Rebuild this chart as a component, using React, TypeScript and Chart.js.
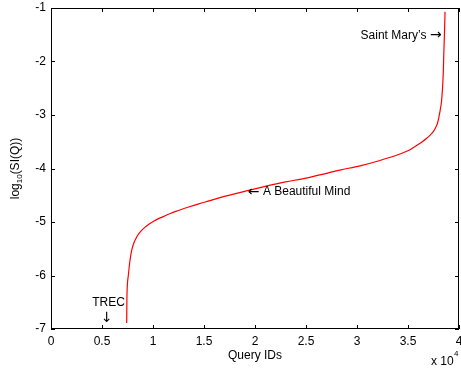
import React, { useEffect, useRef } from "react";
import { Chart, registerables } from "chart.js";

Chart.register(...registerables);

// Query IDs (in units of 10^4) and log10(SI(Q))
const queryIds = [
  0.742, 0.744, 0.748, 0.758, 0.775, 0.79, 0.807, 0.84, 0.873, 0.92, 0.97, 1.03,
  1.1, 1.17, 1.25, 1.35, 1.45, 1.56, 1.7, 1.85, 2.0, 2.15, 2.3, 2.5, 2.7, 2.833,
  3.03, 3.225, 3.42, 3.52, 3.585, 3.64, 3.68, 3.72, 3.748, 3.77, 3.79, 3.81, 3.83,
  3.84, 3.846, 3.852, 3.858, 3.863,
];
const logSI = [
  -6.89, -6.46, -6.2, -6.0, -5.71, -5.54, -5.42, -5.28, -5.19, -5.1, -5.03, -4.96,
  -4.9, -4.84, -4.785, -4.72, -4.66, -4.6, -4.52, -4.45, -4.38, -4.31, -4.25, -4.18,
  -4.09, -4.03, -3.95, -3.85, -3.73, -3.65, -3.57, -3.5, -3.44, -3.37, -3.31, -3.24,
  -3.15, -2.97, -2.72, -2.45, -2.2, -1.8, -1.45, -1.07,
];

const xTicks = [0, 0.5, 1, 1.5, 2, 2.5, 3, 3.5, 4];
const yTicks = [-7, -6, -5, -4, -3, -2, -1];

const annotationTexts = ["Saint Mary\u2019s \u2192", "\u2190 A Beautiful Mind", "TREC", "\u2193"];
const annotationX = [3.83, 1.93, 0.564, 0.548];
const annotationY = [-1.52, -4.44, -6.5, -6.8];
const annotationAlign = ["right", "left", "center", "center"];

const FONT = "'Liberation Sans', Arial, Helvetica, sans-serif";
const ARROW_FONT = "'DejaVu Sans', sans-serif";
const ARROWS = "\u2190\u2192\u2191\u2193";

function drawMixed(ctx: CanvasRenderingContext2D, text: string, x: number, y: number, align: string) {
  const parts = Array.from(text).map((ch) => {
    const font = ARROWS.includes(ch) ? `14px ${ARROW_FONT}` : `12px ${FONT}`;
    ctx.font = font;
    return { ch, font, w: ctx.measureText(ch).width };
  });
  const total = parts.reduce((s, p) => s + p.w, 0);
  let cx = align === "right" ? x - total : align === "center" ? x - total / 2 : x;
  ctx.textAlign = "left";
  parts.forEach((p) => {
    ctx.font = p.font;
    ctx.fillText(p.ch, cx, y);
    cx += p.w;
  });
}

const decorPlugin = {
  id: "decor",
  afterDraw(chart: any) {
    const ctx = chart.ctx as CanvasRenderingContext2D;
    const { left, right, top, bottom } = chart.chartArea;
    const xs = chart.scales.x;
    const ys = chart.scales.y;
    ctx.save();
    ctx.strokeStyle = "#000";
    ctx.lineWidth = 1;
    ctx.strokeRect(Math.round(left) + 0.5, Math.round(top) + 0.5, Math.round(right - left) - 1, Math.round(bottom - top) - 1);
    const tl = 4;
    ctx.beginPath();
    xTicks.forEach((v) => {
      const px = Math.round(xs.getPixelForValue(v)) + 0.5;
      ctx.moveTo(px, bottom);
      ctx.lineTo(px, bottom - tl);
      ctx.moveTo(px, top);
      ctx.lineTo(px, top + tl);
    });
    yTicks.forEach((v) => {
      const py = Math.round(ys.getPixelForValue(v)) + 0.5;
      ctx.moveTo(left, py);
      ctx.lineTo(left + tl, py);
      ctx.moveTo(right, py);
      ctx.lineTo(right - tl, py);
    });
    ctx.stroke();

    ctx.fillStyle = "#000";
    ctx.textBaseline = "middle";
    annotationTexts.forEach((t, i) => {
      drawMixed(ctx, t, xs.getPixelForValue(annotationX[i]), ys.getPixelForValue(annotationY[i]), annotationAlign[i]);
    });

    ctx.font = `12px ${FONT}`;
    ctx.textAlign = "center";
    ctx.fillText("Query IDs", (left + right) / 2, bottom + 27);

    ctx.textAlign = "left";
    ctx.fillText("x 10", right - 28, bottom + 33);
    ctx.font = `8px ${FONT}`;
    ctx.fillText("4", right - 5, bottom + 25);

    ctx.translate(16, (top + bottom) / 2);
    ctx.rotate(-Math.PI / 2);
    ctx.font = `12px ${FONT}`;
    const a = "log";
    const b = "10";
    const c = "(SI(Q))";
    const wa = ctx.measureText(a).width;
    const wc = ctx.measureText(c).width;
    ctx.font = `8px ${FONT}`;
    const wb = ctx.measureText(b).width;
    let x0 = -(wa + wb + wc) / 2;
    ctx.textAlign = "left";
    ctx.font = `12px ${FONT}`;
    ctx.fillText(a, x0, 0);
    x0 += wa;
    ctx.font = `8px ${FONT}`;
    ctx.fillText(b, x0, 4);
    x0 += wb;
    ctx.font = `12px ${FONT}`;
    ctx.fillText(c, x0, 0);
    ctx.restore();
  },
};

export default function App() {
  const ref = useRef<HTMLCanvasElement>(null);
  useEffect(() => {
    if (!ref.current) return;
    const chart = new Chart(ref.current, {
      type: "scatter",
      data: {
        datasets: [
          {
            data: queryIds.map((x, i) => ({ x, y: logSI[i] })),
            showLine: true,
            borderColor: "#ff0000",
            borderWidth: 1.2,
            pointRadius: 0,
            cubicInterpolationMode: "monotone",
            fill: false,
          } as any,
        ],
      },
      options: {
        animation: false,
        responsive: false,
        devicePixelRatio: 1,
        layout: { padding: { top: 8, right: 2, left: 0, bottom: 0 } },
        plugins: { legend: { display: false }, tooltip: { enabled: false } },
        scales: {
          x: {
            type: "linear",
            min: 0,
            max: 4,
            afterBuildTicks: (s: any) => {
              s.ticks = xTicks.map((v) => ({ value: v }));
            },
            ticks: {
              color: "#000",
              font: { family: FONT, size: 12 },
              padding: 5,
              maxRotation: 0,
              autoSkip: false,
              callback: (v: any) => String(v),
            },
            grid: { display: false, drawTicks: false },
            border: { display: false },
            afterFit: (s: any) => {
              s.height = 42;
              s.paddingLeft = 0;
              s.paddingRight = 0;
            },
          },
          y: {
            type: "linear",
            min: -7,
            max: -1,
            afterBuildTicks: (s: any) => {
              s.ticks = yTicks.map((v) => ({ value: v }));
            },
            ticks: {
              color: "#000",
              font: { family: FONT, size: 12 },
              padding: 5,
              autoSkip: false,
              callback: (v: any) => String(v),
            },
            grid: { display: false, drawTicks: false },
            border: { display: false },
            afterFit: (s: any) => {
              s.width = 51;
              s.paddingTop = 0;
              s.paddingBottom = 0;
            },
          },
        },
      },
      plugins: [decorPlugin],
    });
    return () => chart.destroy();
  }, []);
  return (
    <div style={{ position: "fixed", left: 0, top: 0, width: 461, height: 371, background: "#fff" }}>
      <canvas ref={ref} width={461} height={371} />
    </div>
  );
}
